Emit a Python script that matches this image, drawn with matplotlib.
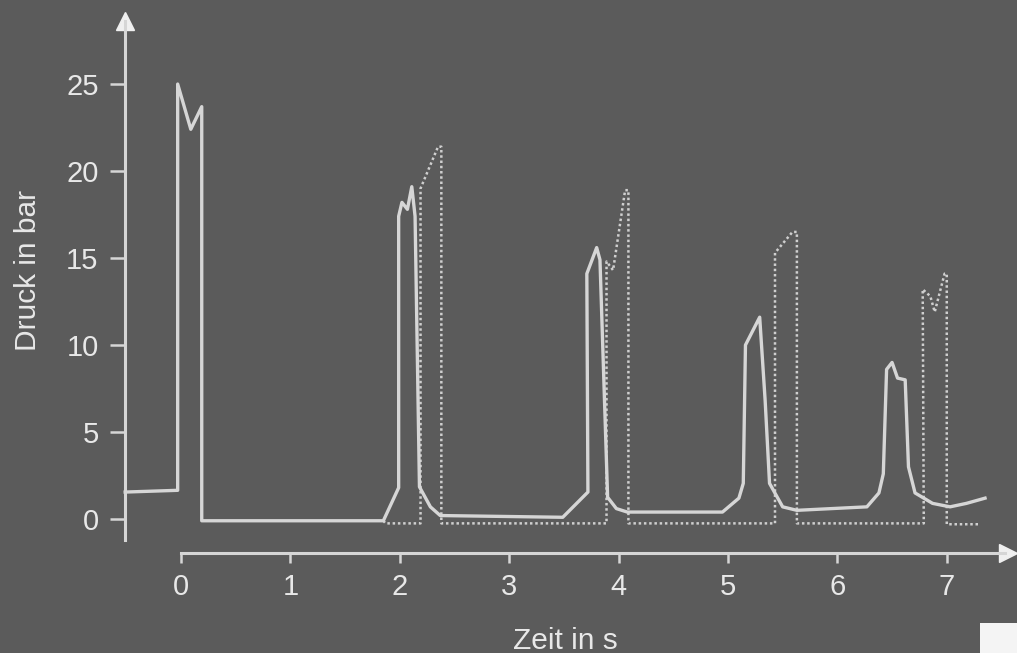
import matplotlib
matplotlib.use("Agg")
import numpy as np
import matplotlib.pyplot as plt
from matplotlib.patches import Rectangle

# Druckverlauf (durchgezogene Linie)
zeit_solid = [-0.51, -0.03, -0.03, 0.09, 0.19, 0.19, 1.85, 1.99, 1.99, 2.02, 2.07, 2.11, 2.14, 2.18,
              2.28, 2.37, 3.49, 3.72, 3.71, 3.80, 3.83, 3.90, 3.98, 4.08, 4.95, 5.10, 5.14, 5.16,
              5.29, 5.34, 5.38, 5.50, 5.63, 6.27, 6.38, 6.42, 6.45, 6.50, 6.55, 6.62, 6.65, 6.71,
              6.87, 7.03, 7.18, 7.35]
druck_solid = [1.55, 1.65, 25.0, 22.4, 23.7, -0.1, -0.1, 1.8, 17.4, 18.2, 17.8, 19.1, 17.4, 1.85,
               0.7, 0.2, 0.1, 1.55, 14.1, 15.6, 14.9, 1.25, 0.6, 0.4, 0.4, 1.2, 2.05, 10.0,
               11.6, 6.8, 2.05, 0.7, 0.5, 0.7, 1.5, 2.6, 8.6, 9.0, 8.1, 8.0, 3.0, 1.5,
               0.9, 0.7, 0.9, 1.2]

# zweiter Druckverlauf (gepunktet)
zeit_dot = [1.85, 1.87, 2.19, 2.19, 2.35, 2.38, 2.38, 3.89, 3.89, 3.95, 4.06, 4.09, 4.09,
            5.43, 5.43, 5.59, 5.63, 5.63, 6.79, 6.78, 6.85, 6.89, 6.98, 7.00, 7.00, 7.30]
druck_dot = [-0.1, -0.25, -0.25, 19.0, 21.4, 21.4, -0.25, -0.25, 14.8, 14.3, 18.9, 18.9, -0.25,
             -0.25, 15.3, 16.5, 16.5, -0.25, -0.25, 13.2, 12.8, 11.9, 14.1, 14.1, -0.3, -0.3]

x_ticks = [0, 1, 2, 3, 4, 5, 6, 7]
y_ticks = [0, 5, 10, 15, 20, 25]

bg = '#5b5b5b'
fg = '#d6d6d6'
txt = '#e8e8e8'

plt.rcParams['font.family'] = ['Liberation Sans', 'DejaVu Sans']

fig = plt.figure(figsize=(10.17, 6.53), dpi=100, facecolor=bg)
ax = fig.add_axes([0, 0, 1, 1], facecolor=bg)
ax.set_xlim(-1.654, 7.642)
ax.set_ylim(-7.70, 29.83)

ax.plot(zeit_dot, druck_dot, linestyle=(0, (1, 1.1)), color='#cfcfcf', lw=1.8)
ax.plot(zeit_solid, druck_solid, '-', color=fg, lw=2.4, solid_joinstyle='round')

# Achsen
for s in ['top', 'right']:
    ax.spines[s].set_visible(False)
ax.spines['left'].set_position(('data', -0.512))
ax.spines['left'].set_bounds(-1.21, 28.6)
ax.spines['bottom'].set_position(('data', -1.95))
ax.spines['bottom'].set_bounds(0, 7.53)
for s in ['left', 'bottom']:
    ax.spines[s].set_color(fg)
    ax.spines[s].set_linewidth(2.2)

ax.plot([-0.512], [28.6], marker='^', color='#f0f0f0', markersize=13, clip_on=False)
ax.plot([7.56], [-1.95], marker='>', color='#f0f0f0', markersize=13, clip_on=False)

ax.set_xticks(x_ticks)
ax.set_yticks(y_ticks)
ax.tick_params(axis='y', direction='out', length=11, width=1.8, color=fg, pad=8,
               labelsize=21, labelcolor=txt)
ax.tick_params(axis='x', direction='out', length=7.5, width=1.8, color=fg, pad=7,
               labelsize=21, labelcolor=txt)

fig.text(28 / 1017, 1 - 270 / 653, 'Druck in bar', rotation=90, ha='center', va='center',
         fontsize=21.5, color=txt)
fig.text(565 / 1017, 1 - 641 / 653, 'Zeit in s', ha='center', va='center',
         fontsize=21.5, color=txt)

# weisses Kaestchen unten rechts
fig.patches.append(Rectangle((980 / 1017, 0), 0.05, 30 / 653, transform=fig.transFigure,
                             facecolor='#f4f4f4', edgecolor='none'))

fig.savefig('out.png', dpi=100, facecolor=bg)
